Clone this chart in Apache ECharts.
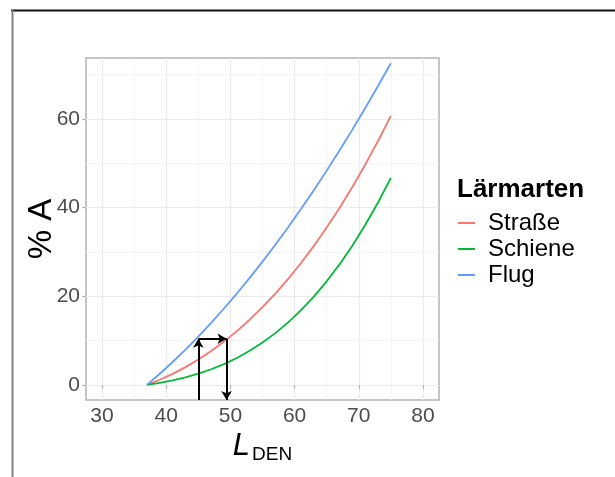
<!DOCTYPE html>
<html>
<head>
<meta charset="utf-8">
<script src="https://cdn.jsdelivr.net/npm/echarts@6/dist/echarts.min.js"></script>
<style>html,body{margin:0;padding:0;background:#fff}#c{width:615px;height:477px}</style>
</head>
<body>
<div id="c"></div>
<script>
// L_DEN values (dB)
const lden = [37,39,41,43,45,47,49,51,53,55,57,59,61,63,65,67,69,71,73,75];
// % highly annoyed
const strasse = [0,1.16,2.49,4.01,5.73,7.64,9.77,12.12,14.70,17.52,20.58,23.90,27.48,31.34,35.47,39.90,44.62,49.65,54.99,60.66];
const schiene = [0,0.47,1.03,1.72,2.54,3.53,4.70,6.08,7.69,9.55,11.68,14.11,16.85,19.92,23.36,27.17,31.39,36.04,41.13,46.68];
const flug    = [0,2.51,5.17,7.97,10.91,14.00,17.23,20.60,24.12,27.79,31.60,35.55,39.66,43.91,48.31,52.86,57.55,62.39,67.39,72.53];
const seriesNames = ['Straße','Schiene','Flug'];
const seriesColors = ['#F8766D','#00BA38','#619CFF'];
const xTicks = [30,40,50,60,70,80];
const yTicks = [0,20,40,60];
const xMinor = [35,45,55,65,75];
const yMinor = [10,30,50,70];
const xRange = [27.5, 82.5];
const yRange = [-3.4, 73.7];
// arrow path: up at 45 dB to Flug, across to Straße, down to axis
const arrowX = [45, 49.4];
const arrowY = 10.4;

const pair = (xs, ys) => xs.map((x, i) => [x, ys[i]]);
const values = [strasse, schiene, flug];

const chart = echarts.init(document.getElementById('c'), null, {renderer: 'canvas'});
const FONT = 'Liberation Sans';

const gridLines = [];
xTicks.forEach(v => gridLines.push({xAxis: v, lineStyle: {color: '#EBEBEB', width: 1.2, type: 'solid'}}));
yTicks.forEach(v => gridLines.push({yAxis: v, lineStyle: {color: '#EBEBEB', width: 1.2, type: 'solid'}}));
xMinor.forEach(v => gridLines.push({xAxis: v, lineStyle: {color: '#F3F3F3', width: 0.8, type: 'solid'}}));
yMinor.forEach(v => gridLines.push({yAxis: v, lineStyle: {color: '#F3F3F3', width: 0.8, type: 'solid'}}));

const arrows = [
  [{coord: [arrowX[0], yRange[0]]}, {coord: [arrowX[0], arrowY]}],
  [{coord: [arrowX[0], arrowY]}, {coord: [arrowX[1], arrowY]}],
  [{coord: [arrowX[1], arrowY]}, {coord: [arrowX[1], yRange[0]]}]
];

const series = [{
  type: 'line', data: [], z: 1, silent: true,
  markLine: {silent: true, z: 0, symbol: 'none', label: {show: false}, animation: false, data: gridLines}
}];
seriesNames.forEach((n, i) => series.push({
  name: n, type: 'line', data: pair(lden, values[i]), showSymbol: false, symbol: 'none',
  lineStyle: {color: seriesColors[i], width: 1.8}, itemStyle: {color: seriesColors[i]}, z: 3, animation: false
}));
series.push({
  type: 'line', data: [], z: 6, silent: true,
  markLine: {silent: true, z: 6, symbol: ['none', 'arrow'], symbolSize: [8, 9], label: {show: false}, animation: false,
    lineStyle: {color: '#000', width: 2, type: 'solid'}, data: arrows}
});

chart.setOption({
  animation: false,
  textStyle: {fontFamily: FONT},
  grid: {left: 86, top: 58, width: 353, height: 342, outerBoundsMode: 'none', containLabel: false,
    show: true, borderColor: '#B3B3B3', borderWidth: 1.5, backgroundColor: 'transparent'},
  xAxis: {
    type: 'value', min: xRange[0], max: xRange[1],
    axisLine: {show: false},
    axisTick: {show: true, customValues: xTicks, length: 4, lineStyle: {color: '#B3B3B3', width: 1.2}},
    axisLabel: {customValues: xTicks, color: '#4D4D4D', fontSize: 21, margin: 6, fontFamily: FONT},
    splitLine: {show: false},
    name: '{l|L}{s|DEN}', nameLocation: 'middle', nameGap: 31, nameMoveOverlap: false,
    nameTextStyle: {rich: {
      l: {fontSize: 31, fontStyle: 'italic', color: '#000', fontFamily: FONT, verticalAlign: 'bottom'},
      s: {fontSize: 19, color: '#000', fontFamily: FONT, verticalAlign: 'bottom', padding: [0, 0, -2, 2]}
    }}
  },
  yAxis: {
    type: 'value', min: yRange[0], max: yRange[1],
    axisLine: {show: false},
    axisTick: {show: true, customValues: yTicks, length: 4, lineStyle: {color: '#B3B3B3', width: 1.2}},
    axisLabel: {customValues: yTicks, color: '#4D4D4D', fontSize: 21, margin: 6, fontFamily: FONT},
    splitLine: {show: false},
    name: '% A', nameLocation: 'middle', nameGap: 28, nameMoveOverlap: false,
    nameTextStyle: {fontSize: 33, color: '#000', fontFamily: FONT}
  },
  title: {text: 'Lärmarten', left: 452, top: 172, textStyle: {fontSize: 26, fontWeight: 'bold', color: '#000', fontFamily: FONT}},
  legend: {
    orient: 'vertical', left: 453, top: 206, itemGap: 2, itemWidth: 17, itemHeight: 2, icon: 'rect',
    data: seriesNames, textStyle: {fontSize: 24, color: '#000', fontFamily: FONT, padding: [0, 0, 0, 8]},
    selectedMode: false
  },
  graphic: [
    {type: 'line', shape: {x1: 11, y1: 10.5, x2: 615, y2: 10.5}, style: {stroke: '#111', lineWidth: 2}, z: 10},
    {type: 'line', shape: {x1: 12.5, y1: 10, x2: 12.5, y2: 477}, style: {stroke: '#808080', lineWidth: 2}, z: 10}
  ],
  series: series
});
</script>
</body>
</html>
